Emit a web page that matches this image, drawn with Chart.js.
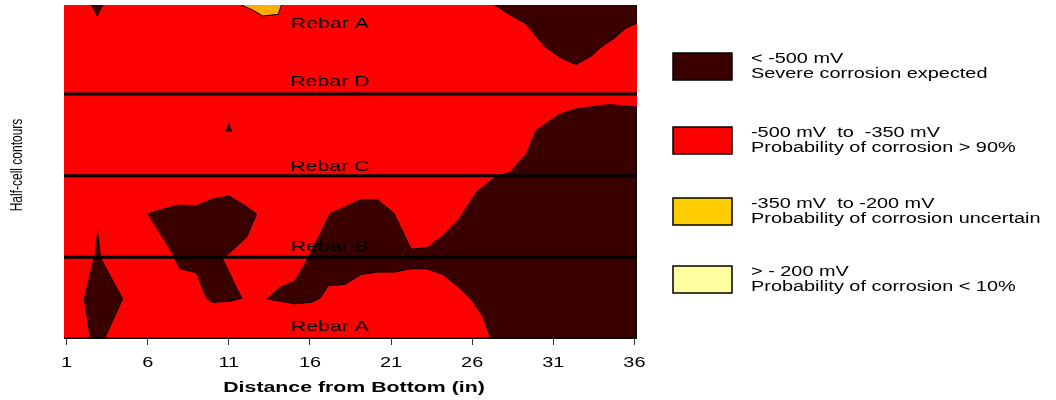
<!DOCTYPE html>
<html>
<head>
<meta charset="utf-8">
<script src="https://cdn.jsdelivr.net/npm/chart.js@4.4.1/dist/chart.umd.min.js"></script>
<style>
  html, body { margin: 0; padding: 0; background: #fff; }
  #wrap { width: 1056px; height: 400px; }
</style>
</head>
<body>
<div id="wrap"><canvas id="contourChart"></canvas></div>
<script>
// axis range (inches along x, rebar spacing units along y)
const X_MIN = 0.84, X_MAX = 36.16;
const Y_MIN = 0, Y_MAX = 4.09;
const xTicks = [1, 6, 11, 16, 21, 26, 31, 36];

// rebar lines and their labels
const rebarLevels = [0, 1, 2, 3];
const rebarLabels = ['Rebar A', 'Rebar B', 'Rebar C', 'Rebar D', 'Rebar A'];
const rebarLabelY = [0.16, 1.14, 2.12, 3.16, 3.87];
const rebarLabelX = 17.23;

// contour outlines, [x, y]
const severeEast = [
  [27.16, 0], [26.68, 0.27], [25.97, 0.48], [25.14, 0.64], [24.22, 0.79], [23.19, 0.86],
  [22.17, 0.86], [21.24, 0.82], [20.21, 0.82], [19.14, 0.79], [18.16, 0.67], [17.13, 0.65],
  [16.62, 0.50], [16.10, 0.45], [15.08, 0.43], [13.37, 0.49], [14.15, 0.63], [15.08, 0.71],
  [15.90, 0.99], [17.23, 1.53], [19.19, 1.71], [20.21, 1.70], [21.18, 1.54], [22.23, 1.10],
  [23.26, 1.12], [24.22, 1.27], [25.20, 1.47], [26.28, 1.80], [27.41, 1.98], [27.82, 2.01],
  [28.33, 2.04], [29.36, 2.27], [29.93, 2.55], [31.37, 2.75], [32.44, 2.82], [34.45, 2.87],
  [36.16, 2.84], [36.16, 0]
];
const severeNorthEast = [
  [27.41, 4.09], [28.33, 3.97], [29.26, 3.87], [30.49, 3.58], [31.41, 3.45], [32.40, 3.36],
  [33.37, 3.47], [33.98, 3.58], [34.80, 3.69], [35.42, 3.80], [36.16, 3.87], [36.16, 4.09]
];
const severeWest = [
  [2.89, 1.34], [3.10, 0.99], [4.45, 0.49], [3.32, 0], [2.48, 0], [2.09, 0.49], [2.70, 0.99]
];
const severeMid = [
  [5.99, 1.53], [6.96, 1.59], [7.92, 1.64], [9.01, 1.63], [9.94, 1.71], [11.01, 1.75],
  [11.95, 1.64], [12.71, 1.53], [12.10, 1.25], [11.07, 1.06], [10.59, 0.99], [11.79, 0.50],
  [11.02, 0.46], [10.00, 0.45], [9.63, 0.50], [9.01, 0.81], [7.99, 0.86], [7.68, 0.99]
];
const severeNorthWest = [[2.54, 4.09], [2.89, 3.96], [3.22, 4.09]];
const severeSpot = [[10.82, 2.54], [11.01, 2.63], [11.17, 2.54]];
const uncertainNorth = [[11.78, 4.09], [12.46, 4.03], [13.10, 3.955], [14.05, 3.976], [14.24, 4.09]];

// legend
const legendRanges = ['< -500 mV', '-500 mV  to  -350 mV', '-350 mV  to -200 mV', '> - 200 mV'];
const legendNotes = ['Severe corrosion expected', 'Probability of corrosion > 90%',
  'Probability of corrosion uncertain', 'Probability of corrosion < 10%'];
const legendColors = ['#3a0000', '#ff0000', '#ffcc00', '#ffffa0'];
const uncertainColor = '#ffad00';

const toPoints = (pairs) => pairs.map(([x, y]) => ({x, y}));

function zone(pairs, color, border) {
  return {
    data: toPoints(pairs),
    backgroundColor: color,
    borderColor: '#000',
    borderWidth: border,
    fill: 'shape',
    pointRadius: 0,
    tension: 0
  };
}

const rebarSets = rebarLevels.map(v => ({
  data: [{x: X_MIN, y: v}, {x: X_MAX, y: v}],
  borderColor: '#000',
  borderWidth: 3,
  fill: false,
  pointRadius: 0
}));

const field = [[X_MIN, Y_MIN], [X_MAX, Y_MIN], [X_MAX, Y_MAX], [X_MIN, Y_MAX]];

// first dataset is drawn on top
const datasets = [
  ...rebarSets,
  zone(severeSpot, legendColors[0], 1),
  zone(severeNorthWest, legendColors[0], 1),
  zone(severeWest, legendColors[0], 1),
  zone(severeMid, legendColors[0], 1),
  zone(severeEast, legendColors[0], 1),
  zone(severeNorthEast, legendColors[0], 1),
  zone(uncertainNorth, uncertainColor, 1),
  zone(field, legendColors[1], 0)
];

const SX = 1.42; // the original text is drawn wide
function wideText(ctx, text, x, y, font, align) {
  ctx.save();
  ctx.translate(x, y);
  ctx.scale(SX, 1);
  ctx.font = font;
  ctx.fillStyle = '#000';
  ctx.textAlign = align || 'center';
  ctx.textBaseline = 'middle';
  ctx.fillText(text, 0, 0);
  ctx.restore();
}

const FONT = '"Liberation Sans", Arial, sans-serif';
const legendTops = [53, 127, 198, 266];

const annotations = {
  id: 'annotations',
  afterDatasetsDraw(chart) {
    const {ctx, scales: {x, y}} = chart;
    rebarLabels.forEach((t, i) => {
      wideText(ctx, t, x.getPixelForValue(rebarLabelX), y.getPixelForValue(rebarLabelY[i]) + 1, '15px ' + FONT);
    });
  },
  afterDraw(chart) {
    const {ctx, chartArea, scales: {x}} = chart;
    xTicks.forEach(v => wideText(ctx, String(v), x.getPixelForValue(v), 363, '14px ' + FONT));
    wideText(ctx, 'Distance from Bottom (in)', 354, 388, 'bold 15px ' + FONT);

    // y title, rotated
    ctx.save();
    ctx.translate(17, (chartArea.top + chartArea.bottom) / 2 - 7);
    ctx.rotate(-Math.PI / 2);
    ctx.scale(1, SX);
    ctx.font = '12px ' + FONT;
    ctx.fillStyle = '#000';
    ctx.textAlign = 'center';
    ctx.textBaseline = 'middle';
    ctx.fillText('Half-cell contours', 0, 0);
    ctx.restore();

    // legend
    legendRanges.forEach((r, i) => {
      const top = legendTops[i];
      ctx.fillStyle = legendColors[i];
      ctx.fillRect(673, top, 59, 27);
      ctx.strokeStyle = '#000';
      ctx.lineWidth = 1.5;
      ctx.strokeRect(673, top, 59, 27);
      wideText(ctx, r, 751, top + 6, '14px ' + FONT, 'left');
      wideText(ctx, legendNotes[i], 751, top + 21, '14px ' + FONT, 'left');
    });
  }
};

new Chart(document.getElementById('contourChart'), {
  type: 'line',
  data: { datasets },
  options: {
    responsive: true,
    maintainAspectRatio: false,
    animation: false,
    layout: { padding: { left: 64, right: 419, top: 5, bottom: 0 } },
    plugins: { legend: { display: false }, tooltip: { enabled: false } },
    scales: {
      x: {
        type: 'linear',
        min: X_MIN,
        max: X_MAX,
        afterBuildTicks: (s) => { s.ticks = xTicks.map(v => ({value: v})); },
        afterFit: (s) => { s.height = 61; },
        ticks: { display: false },
        grid: { drawOnChartArea: false, drawTicks: true, tickLength: 6, color: '#333' },
        border: { display: false }
      },
      y: { type: 'linear', min: Y_MIN, max: Y_MAX, display: false }
    }
  },
  plugins: [annotations]
});
</script>
</body>
</html>
